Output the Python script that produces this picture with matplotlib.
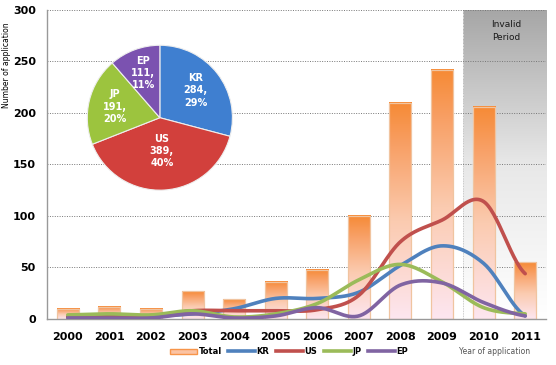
import numpy as np
import matplotlib
matplotlib.use("Agg")
import matplotlib.pyplot as plt
from matplotlib.patches import Patch
from matplotlib.lines import Line2D
from matplotlib.colors import LinearSegmentedColormap

years = ["2000", "2001", "2002", "2003", "2004", "2005", "2006",
         "2007", "2008", "2009", "2010", "2011"]
total = [10, 12, 10, 27, 19, 36, 48, 100, 210, 242, 206, 55]
kr = [2, 3, 3, 5, 10, 20, 20, 26, 52, 71, 54, 3]
us = [2, 2, 2, 8, 8, 8, 9, 23, 75, 96, 114, 44]
jp = [4, 5, 4, 8, 2, 5, 15, 38, 53, 36, 11, 5]
ep = [1, 1, 1, 5, 1, 3, 11, 3, 33, 35, 16, 3]

pie_labels = ["KR", "US", "JP", "EP"]
pie_values = [284, 389, 191, 111]
pie_pct = [29, 40, 20, 11]

y_ticks = [0, 50, 100, 150, 200, 250, 300]
invalid_start_idx = 10

c_kr = "#4f81bd"
c_us = "#c0504d"
c_jp = "#9bbb59"
c_ep = "#8064a2"


def catmull_rom(xs, ys, n=30):
    xs = np.asarray(xs, float)
    ys = np.asarray(ys, float)
    px = np.concatenate([[2 * xs[0] - xs[1]], xs, [2 * xs[-1] - xs[-2]]])
    py = np.concatenate([[ys[0]], ys, [ys[-1]]])
    ox, oy = [], []
    for i in range(1, len(px) - 2):
        t = np.linspace(0, 1, n, endpoint=(i == len(px) - 3))
        for P, out in ((px, ox), (py, oy)):
            p0, p1, p2, p3 = P[i - 1], P[i], P[i + 1], P[i + 2]
            m1 = (p2 - p0) / 2
            m2 = (p3 - p1) / 2
            h00 = 2 * t**3 - 3 * t**2 + 1
            h10 = t**3 - 2 * t**2 + t
            h01 = -2 * t**3 + 3 * t**2
            h11 = t**3 - t**2
            out.extend(h00 * p1 + h10 * m1 + h01 * p2 + h11 * m2)
    return np.array(ox), np.array(oy)


plt.rcParams['font.family'] = ['DejaVu Sans']
fig = plt.figure(figsize=(5.56, 3.65), dpi=100)
ax = fig.add_axes([0.0845, 0.126, 0.8975, 0.847])

x = np.arange(len(years))

# invalid period shading (vertical gradient)
grey = LinearSegmentedColormap.from_list("g", ["#ffffff", "#e8e8e8", "#a6a6a6"])
grad = np.linspace(0, 1, 256).reshape(-1, 1)
ax.imshow(grad, extent=[invalid_start_idx - 0.5, len(years) - 0.5, 0, 300],
          origin="lower", cmap=grey, aspect="auto", zorder=0.5)
ax.plot([invalid_start_idx - 0.5] * 2, [0, 300], color="#ffffff", lw=1.2,
        ls=(0, (1, 1)), zorder=0.7)
ax.plot([invalid_start_idx - 0.5] * 2, [0, 300], color="#bbbbbb", lw=0.6,
        ls=(1, (1, 1)), zorder=0.7)
ax.text(invalid_start_idx + 0.55, 290, "Invalid\nPeriod", ha="center", va="top",
        fontsize=6.5, color="#1a1a1a", linespacing=1.6, zorder=5)

# grid
for yt in y_ticks[1:]:
    ax.axhline(yt, color="#777777", lw=0.7, ls=(0, (1, 1.5)), zorder=0.8)

# bars with gradient
bar_cmap = LinearSegmentedColormap.from_list(
    "o", [(0.0, "#fde6f0"), (0.45, "#fbcbb0"), (0.8, "#f8a066"), (1.0, "#f68a35")])
w = 0.53
ax.bar(x, total, width=w, color="none", edgecolor="#f0c4a0", lw=0.9, zorder=1.5)
for xi, h in zip(x, total):
    ax.imshow(grad, extent=[xi - w / 2, xi + w / 2, 0, h], origin="lower",
              cmap=bar_cmap, aspect="auto", zorder=1)

# smooth lines
for vals, col in ((kr, c_kr), (us, c_us), (jp, c_jp), (ep, c_ep)):
    sx, sy = catmull_rom(x, vals)
    ax.plot(sx, sy, color=col, lw=2.6, solid_capstyle="round", zorder=3)

ax.set_xticks(x)
ax.set_xticklabels(years, fontsize=8, fontweight="bold")
ax.set_yticks(y_ticks)
ax.set_yticklabels([str(v) for v in y_ticks], fontsize=8, fontweight="bold")
ax.tick_params(length=0, pad=8)
ax.tick_params(axis="x", pad=9)
for s in ("top", "right"):
    ax.spines[s].set_visible(False)
for s in ("left", "bottom"):
    ax.spines[s].set_color("#999999")
    ax.spines[s].set_linewidth(1.0)
ax.set_ylabel("Number of application", fontsize=5.5)
ax.yaxis.set_label_coords(-0.072, 0.82)
ax.set_xlim(-0.5, len(years) - 0.5)
ax.set_ylim(0, 300)

# legend
handles = [Patch(facecolor="#fbc3a3", edgecolor="#f7954a", label="Total"),
           Line2D([], [], color=c_kr, lw=2.6, label="KR"),
           Line2D([], [], color=c_us, lw=2.6, label="US"),
           Line2D([], [], color=c_jp, lw=2.6, label="JP"),
           Line2D([], [], color=c_ep, lw=2.6, label="EP")]
fig.legend(handles=handles, loc="center", bbox_to_anchor=(0.52, 0.036), ncol=5,
           frameon=False, handlelength=3.2, handletextpad=0.2,
           columnspacing=0.8, prop={"weight": "bold", "size": 6})
fig.text(0.89, 0.036, "Year of application", fontsize=5.5, color="#555555",
         ha="center", va="center")

# pie inset
pax = fig.add_axes([0.157, 0.479, 0.261, 0.397])
pie_colors = ["#3f7fd0", "#d2403c", "#9cc43e", "#7b52b0"]
label_r = [0.62, 0.46, 0.64, 0.66]
wedges, _ = pax.pie(pie_values, colors=pie_colors, startangle=90, counterclock=False,
                    radius=1.0, wedgeprops=dict(edgecolor="#eeeeee", linewidth=0.8))
for wdg, lab, v, p, r in zip(wedges, pie_labels, pie_values, pie_pct, label_r):
    ang = np.deg2rad((wdg.theta1 + wdg.theta2) / 2)
    pax.text(r * np.cos(ang), r * np.sin(ang), f"{lab}\n{v},\n{p}%", ha="center",
             va="center", color="white", fontsize=7, fontweight="bold", linespacing=1.3)
pax.set_xlim(-1.0, 1.0)
pax.set_ylim(-1.0, 1.0)
pax.set_aspect("auto")

fig.savefig("out.png", dpi=100)
